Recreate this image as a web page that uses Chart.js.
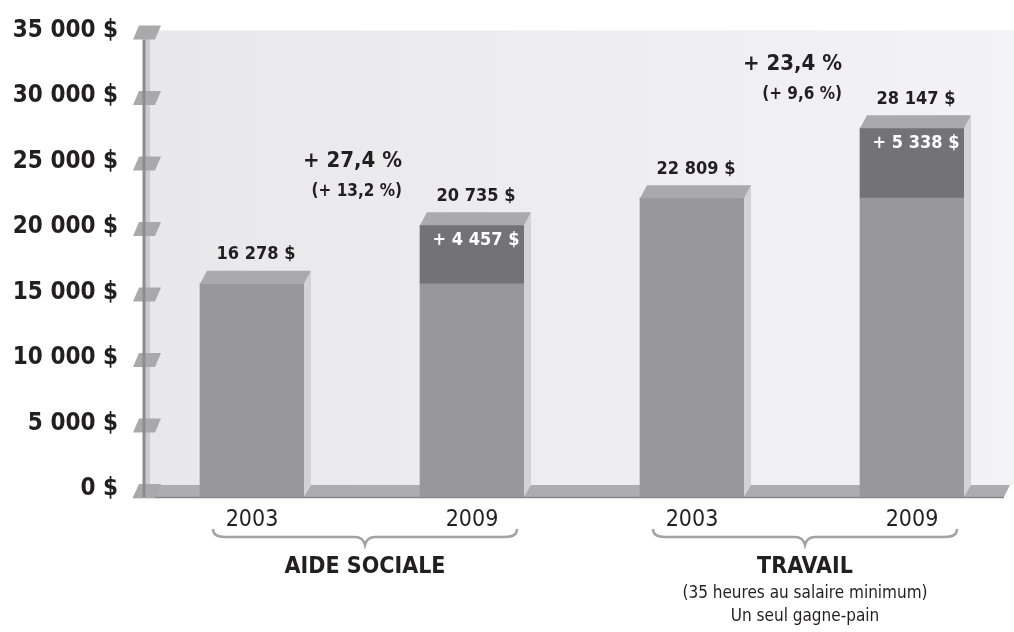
<!DOCTYPE html>
<html>
<head>
<meta charset="utf-8">
<script src="https://cdn.jsdelivr.net/npm/chart.js@4.4.1/dist/chart.umd.min.js"></script>
<style>
  html, body { margin: 0; padding: 0; background: #ffffff; overflow: hidden; }
  #wrap { width: 1030px; height: 632px; }
</style>
</head>
<body>
<div id="wrap"><canvas id="c" width="1030" height="632"></canvas></div>
<script>
// ---- data ----
const categories = ['2003', '2009', '2003', '2009'];
const baseValues = [16278, 16278, 22809, 22809];
const increaseValues = [0, 4457, 0, 5338];
const totalLabels = ['16 278 $', '20 735 $', '22 809 $', '28 147 $'];
const increaseLabels = ['', '+ 4 457 $', '', '+ 5 338 $'];
const groupNames = ['AIDE SOCIALE', 'TRAVAIL'];
const groupNotes = [[], ['(35 heures au salaire minimum)', 'Un seul gagne-pain']];
const groupBars = [[0, 1], [2, 3]];
const pctMain = ['+ 27,4 %', '+ 23,4 %'];
const pctSub = ['(+ 13,2 %)', '(+ 9,6 %)'];
const yMax = 35000;
const yStep = 5000;

const FONT = '"DejaVu Sans Condensed", "Liberation Sans Narrow", "Roboto", sans-serif';
const INK = '#231f20';
const C = {
  front: '#98989c', inc: '#737377', top: '#aaaaae', side: '#d3d3d6',
  floor: '#adadb0', floorLine: '#86868a', wall: '#8c8c90', wallStrip: '#cdcdd0',
  plate: '#a9a9ac', brace: '#a3a3a6'
};
const DX = 7, DY = 13;

function fmt(v) {
  const s = String(v).replace(/\B(?=(\d{3})+(?!\d))/g, ' ');
  return s + ' $';
}

const deco = {
  id: 'deco',
  beforeDatasetsDraw(chart) {
    const ctx = chart.ctx;
    const y = chart.scales.y;
    const ca = chart.chartArea;
    const floorTop = ca.bottom - 12;
    const yTop = y.getPixelForValue(yMax);
    ctx.save();
    // back wall background
    const g = ctx.createLinearGradient(150, 0, 1014, 0);
    g.addColorStop(0, '#e8e8ea');
    g.addColorStop(1, '#f3f3f5');
    ctx.fillStyle = g;
    ctx.fillRect(150, yTop - 8, 1030 - 150, floorTop - (yTop - 8));
    // left wall strip
    ctx.fillStyle = C.wallStrip;
    ctx.fillRect(145, yTop, 5, ca.bottom - yTop);
    // floor band
    ctx.fillStyle = C.floor;
    ctx.beginPath();
    ctx.moveTo(133, ca.bottom);
    ctx.lineTo(139, floorTop);
    ctx.lineTo(1010, floorTop);
    ctx.lineTo(1004, ca.bottom);
    ctx.closePath();
    ctx.fill();
    ctx.strokeStyle = C.floorLine;
    ctx.lineWidth = 1.5;
    ctx.beginPath();
    ctx.moveTo(133, ca.bottom + 0.5);
    ctx.lineTo(1004, ca.bottom + 0.5);
    ctx.stroke();
    // tick plates
    ctx.fillStyle = C.plate;
    for (let v = 0; v <= yMax; v += yStep) {
      const py = y.getPixelForValue(v);
      ctx.beginPath();
      ctx.moveTo(133, py + 1);
      ctx.lineTo(155, py + 1);
      ctx.lineTo(161, py - 13);
      ctx.lineTo(139, py - 13);
      ctx.closePath();
      ctx.fill();
    }
    // wall line
    ctx.strokeStyle = C.wall;
    ctx.lineWidth = 3;
    ctx.beginPath();
    ctx.moveTo(144, yTop + 1);
    ctx.lineTo(144, ca.bottom);
    ctx.stroke();
    ctx.restore();
  },
  afterDatasetsDraw(chart) {
    const ctx = chart.ctx;
    const y = chart.scales.y;
    const ca = chart.chartArea;
    const floorTop = ca.bottom - 12;
    const meta = chart.getDatasetMeta(0);
    ctx.save();
    const geo = meta.data.map((el, i) => {
      const L = el.x - el.width / 2, R = el.x + el.width / 2;
      const top = y.getPixelForValue(baseValues[i] + increaseValues[i]);
      return { L, R, top, cx: el.x };
    });
    geo.forEach((b, i) => {
      // side face
      ctx.fillStyle = C.side;
      ctx.beginPath();
      ctx.moveTo(b.R, b.top);
      ctx.lineTo(b.R + DX, b.top - DY);
      ctx.lineTo(b.R + DX, floorTop);
      ctx.lineTo(b.R, ca.bottom);
      ctx.closePath();
      ctx.fill();
      // top face
      ctx.fillStyle = C.top;
      ctx.beginPath();
      ctx.moveTo(b.L, b.top);
      ctx.lineTo(b.R, b.top);
      ctx.lineTo(b.R + DX, b.top - DY);
      ctx.lineTo(b.L + DX, b.top - DY);
      ctx.closePath();
      ctx.fill();
      // total label
      ctx.fillStyle = INK;
      ctx.font = 'bold 18px ' + FONT;
      ctx.textAlign = 'center';
      ctx.textBaseline = 'middle';
      ctx.fillText(totalLabels[i], b.cx + 4, b.top - 29);
      if (increaseLabels[i]) {
        ctx.fillStyle = '#ffffff';
        ctx.fillText(increaseLabels[i], b.cx + 4, b.top + 15);
      }
    });
    // percentages
    groupBars.forEach((gb, gi) => {
      const b = geo[gb[1]];
      const rx = b.L - 18;
      const my = b.top - 64;
      ctx.fillStyle = INK;
      ctx.textAlign = 'right';
      ctx.textBaseline = 'middle';
      ctx.font = 'bold 22px ' + FONT;
      ctx.fillText(pctMain[gi], rx, my);
      ctx.font = 'bold 17px ' + FONT;
      ctx.fillText(pctSub[gi], rx, my + 30);
    });
    // braces and group labels
    groupBars.forEach((gb, gi) => {
      const a = geo[gb[0]], c = geo[gb[1]];
      const x1 = a.L + 13, x2 = c.R - 7, xm = (x1 + x2) / 2;
      const yEnd = 529, yMid = 537, yTip = 545;
      ctx.strokeStyle = C.brace;
      ctx.lineWidth = 2.5;
      ctx.beginPath();
      ctx.moveTo(x1, yEnd);
      ctx.quadraticCurveTo(x1, yMid, x1 + 12, yMid);
      ctx.lineTo(xm - 10, yMid);
      ctx.quadraticCurveTo(xm - 2, yMid, xm, yTip);
      ctx.quadraticCurveTo(xm + 2, yMid, xm + 10, yMid);
      ctx.lineTo(x2 - 12, yMid);
      ctx.quadraticCurveTo(x2, yMid, x2, yEnd);
      ctx.stroke();
      ctx.fillStyle = INK;
      ctx.textAlign = 'center';
      ctx.textBaseline = 'middle';
      ctx.font = 'bold 23px ' + FONT;
      ctx.fillText(groupNames[gi], xm, 567);
      ctx.font = '17px ' + FONT;
      groupNotes[gi].forEach((t, k) => ctx.fillText(t, xm, 594 + k * 23));
    });
    ctx.restore();
  }
};

new Chart(document.getElementById('c'), {
  type: 'bar',
  data: {
    labels: categories,
    datasets: [
      { data: baseValues, backgroundColor: C.front, borderWidth: 0, barThickness: 104 },
      { data: increaseValues, backgroundColor: C.inc, borderWidth: 0, barThickness: 104 }
    ]
  },
  options: {
    responsive: false,
    devicePixelRatio: 1,
    animation: false,
    layout: { padding: { top: 35, right: 8, bottom: 0, left: 0 } },
    plugins: { legend: { display: false }, tooltip: { enabled: false } },
    scales: {
      x: {
        stacked: true,
        grid: { display: false, drawTicks: false },
        border: { display: false },
        ticks: { color: INK, font: { family: FONT, size: 23 }, padding: 9 },
        afterFit: s => { s.height = 135; }
      },
      y: {
        stacked: true,
        min: 0, max: yMax,
        grid: { display: false, drawTicks: false },
        border: { display: false },
        ticks: {
          stepSize: yStep, color: INK, padding: 24, labelOffset: -8,
          font: { family: FONT, size: 24, weight: 'bold' },
          callback: v => fmt(v)
        },
        afterFit: s => { s.width = 142; }
      }
    }
  },
  plugins: [deco]
});
</script>
</body>
</html>
